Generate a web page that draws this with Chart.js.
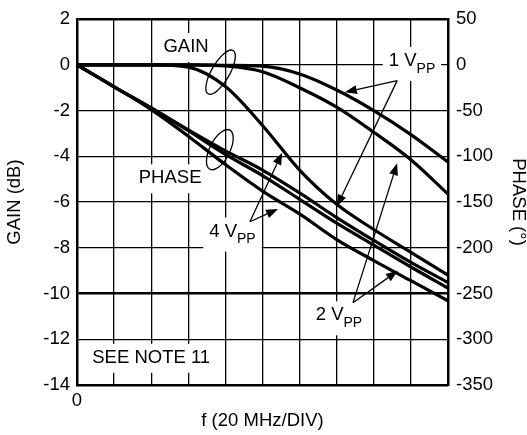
<!DOCTYPE html>
<html>
<head>
<meta charset="utf-8">
<script src="https://cdn.jsdelivr.net/npm/chart.js@4/dist/chart.umd.min.js"></script>
<style>
  html, body { margin: 0; padding: 0; background: #fff; }
</style>
</head>
<body>
<canvas id="myChart" width="527" height="435"></canvas>
<script>
// x in divisions (20 MHz / DIV)
const freqDiv = [0, 1, 2, 3, 4, 5, 6, 7, 8, 9, 10];

// gain (dB)
const gain1Vpp = [0, 0, 0, 0, -0.02, -0.06, -0.4, -1.1, -2.0, -3.05, -4.25];
const gain2Vpp = [0, 0, 0, 0, -0.05, -0.3, -1.0, -1.85, -2.95, -4.15, -5.65];
const gain4Vpp = [0, 0, 0, -0.1, -0.95, -2.65, -4.6, -6.1, -7.2, -8.2, -9.2];

// phase (degrees)
const phase1Vpp = [0, -24, -47, -71, -94, -115, -140, -167, -192, -216, -238];
const phase4Vpp = [0, -24, -47, -72, -98, -121, -147, -173, -197, -221, -244];
const phase2Vpp = [0, -24, -49, -78, -109, -138, -163, -191, -214, -236, -258];

const gainTicks = { min: -14, max: 2, step: 2 };
const phaseTicks = { min: -350, max: 50, step: 50 };

const FONT = '"Liberation Sans", Arial, Helvetica, sans-serif';
const TXT = 18.5;

function pts(ys) {
  return freqDiv.map((x, i) => ({ x: x, y: ys[i] }));
}

function curve(label, ys, axis) {
  return {
    label: label,
    data: pts(ys),
    yAxisID: axis,
    borderColor: '#000',
    borderWidth: 3.2,
    pointRadius: 0,
    fill: false,
    cubicInterpolationMode: 'monotone'
  };
}

// annotations, in chart units (div, dB)
const labels = [
  { x: 2.94, y: 0.78, main: 'GAIN' },
  { x: 2.51, y: -4.96, main: 'PHASE' },
  { x: 2.0, y: -12.81, main: 'SEE NOTE 11' },
  { x: 9.03, y: 0.17, main: '1 V', sub: 'PP' },
  { x: 7.06, y: -10.95, main: '2 V', sub: 'PP' },
  { x: 4.19, y: -7.29, main: '4 V', sub: 'PP' }
];
const arrows = [
  { from: [8.63, -0.69], to: [7.22, -1.2] },
  { from: [8.63, -0.69], to: [7.0, -6.2] },
  { from: [7.44, -10.4], to: [8.65, -9.0] },
  { from: [7.44, -10.4], to: [8.63, -4.3] },
  { from: [4.66, -6.86], to: [5.53, -3.84] },
  { from: [4.66, -6.86], to: [5.42, -6.3] }
];
const ellipses = [
  { x: 3.87, y: -0.32, rx: 9, ry: 25, rot: 30 },
  { x: 3.85, y: -3.71, rx: 10, ry: 22, rot: 27 }
];

const notes = {
  id: 'notes',
  beforeDatasetsDraw(chart) {
    const ctx = chart.ctx;
    const xs = chart.scales.x, ys = chart.scales.y;
    ctx.save();
    labels.forEach(l => {
      const cx = xs.getPixelForValue(l.x);
      const cy = ys.getPixelForValue(l.y);
      ctx.font = TXT + 'px ' + FONT;
      const w1 = ctx.measureText(l.main).width;
      let w2 = 0;
      if (l.sub) {
        ctx.font = '14px ' + FONT;
        w2 = ctx.measureText(l.sub).width;
      }
      const w = w1 + w2;
      const x0 = cx - w / 2;
      ctx.fillStyle = '#fff';
      ctx.fillRect(x0 - 6, cy - 14, w + 12, l.sub ? 34 : 29);
      ctx.fillStyle = '#000';
      ctx.textBaseline = 'middle';
      ctx.textAlign = 'left';
      ctx.font = TXT + 'px ' + FONT;
      ctx.fillText(l.main, x0, cy);
      if (l.sub) {
        ctx.font = '14px ' + FONT;
        ctx.fillText(l.sub, x0 + w1, cy + 8);
      }
    });
    ctx.restore();
  },
  afterDatasetsDraw(chart) {
    const ctx = chart.ctx;
    const xs = chart.scales.x, ys = chart.scales.y;
    ctx.save();
    ctx.strokeStyle = '#000';
    ctx.fillStyle = '#000';
    ctx.lineWidth = 1.3;
    arrows.forEach(a => {
      const x1 = xs.getPixelForValue(a.from[0]), y1 = ys.getPixelForValue(a.from[1]);
      const x2 = xs.getPixelForValue(a.to[0]), y2 = ys.getPixelForValue(a.to[1]);
      const ang = Math.atan2(y2 - y1, x2 - x1);
      const len = 12, hw = 4.5;
      const bx = x2 - len * Math.cos(ang), by = y2 - len * Math.sin(ang);
      ctx.beginPath();
      ctx.moveTo(x1, y1);
      ctx.lineTo(bx, by);
      ctx.stroke();
      ctx.beginPath();
      ctx.moveTo(x2, y2);
      ctx.lineTo(bx + hw * Math.sin(ang), by - hw * Math.cos(ang));
      ctx.lineTo(bx - hw * Math.sin(ang), by + hw * Math.cos(ang));
      ctx.closePath();
      ctx.fill();
    });
    ellipses.forEach(e => {
      ctx.beginPath();
      ctx.ellipse(xs.getPixelForValue(e.x), ys.getPixelForValue(e.y), e.rx, e.ry,
        e.rot * Math.PI / 180, 0, Math.PI * 2);
      ctx.stroke();
    });
    ctx.restore();
  }
};

const ctx = document.getElementById('myChart').getContext('2d');
new Chart(ctx, {
  type: 'line',
  data: {
    datasets: [
      curve('Gain 1 VPP', gain1Vpp, 'y'),
      curve('Gain 2 VPP', gain2Vpp, 'y'),
      curve('Gain 4 VPP', gain4Vpp, 'y'),
      curve('Phase 1 VPP', phase1Vpp, 'y2'),
      curve('Phase 4 VPP', phase4Vpp, 'y2'),
      curve('Phase 2 VPP', phase2Vpp, 'y2')
    ]
  },
  options: {
    responsive: false,
    animation: false,
    layout: { padding: { top: 14, left: 0, right: 0, bottom: 0 } },
    plugins: { legend: { display: false }, tooltip: { enabled: false } },
    scales: {
      x: {
        type: 'linear',
        min: 0, max: 10,
        afterFit(s) { s.height = 50; },
        ticks: {
          stepSize: 1, autoSkip: false, maxRotation: 0, padding: 5,
          color: '#000', font: { family: FONT, size: TXT },
          callback: v => (v === 0 ? '0' : '')
        },
        grid: { color: '#000', lineWidth: 1.3, drawTicks: false },
        border: { color: '#000', width: 2.5 },
        title: {
          display: true, text: 'f (20 MHz/DIV)', color: '#000',
          font: { family: FONT, size: TXT, lineHeight: 1 }, padding: { top: 0, bottom: 5 }
        }
      },
      y: {
        position: 'left',
        min: gainTicks.min, max: gainTicks.max,
        afterFit(s) { s.width = 77; },
        ticks: {
          stepSize: gainTicks.step, padding: 7, color: '#000',
          font: { family: FONT, size: TXT }
        },
        grid: {
          color: '#000', drawTicks: false,
          lineWidth: c => (c.tick && (c.tick.value === -10 || c.tick.value === 2) ? 2.5 : 1.3)
        },
        border: { color: '#000', width: 2.5 },
        title: {
          display: true, text: 'GAIN (dB)', color: '#000',
          font: { family: FONT, size: TXT, lineHeight: 1 }, padding: { top: 6, bottom: 0 }
        }
      },
      y2: {
        position: 'right',
        min: phaseTicks.min, max: phaseTicks.max,
        afterFit(s) { s.width = 79; },
        ticks: {
          stepSize: phaseTicks.step, padding: 8, color: '#000',
          font: { family: FONT, size: TXT }
        },
        grid: { drawOnChartArea: false, drawTicks: false },
        border: { color: '#000', width: 2.5 },
        title: {
          display: true, text: 'PHASE (°)', color: '#000',
          font: { family: FONT, size: TXT, lineHeight: 1 }, padding: { top: 0, bottom: 0 }
        }
      }
    }
  },
  plugins: [notes]
});
</script>
</body>
</html>
